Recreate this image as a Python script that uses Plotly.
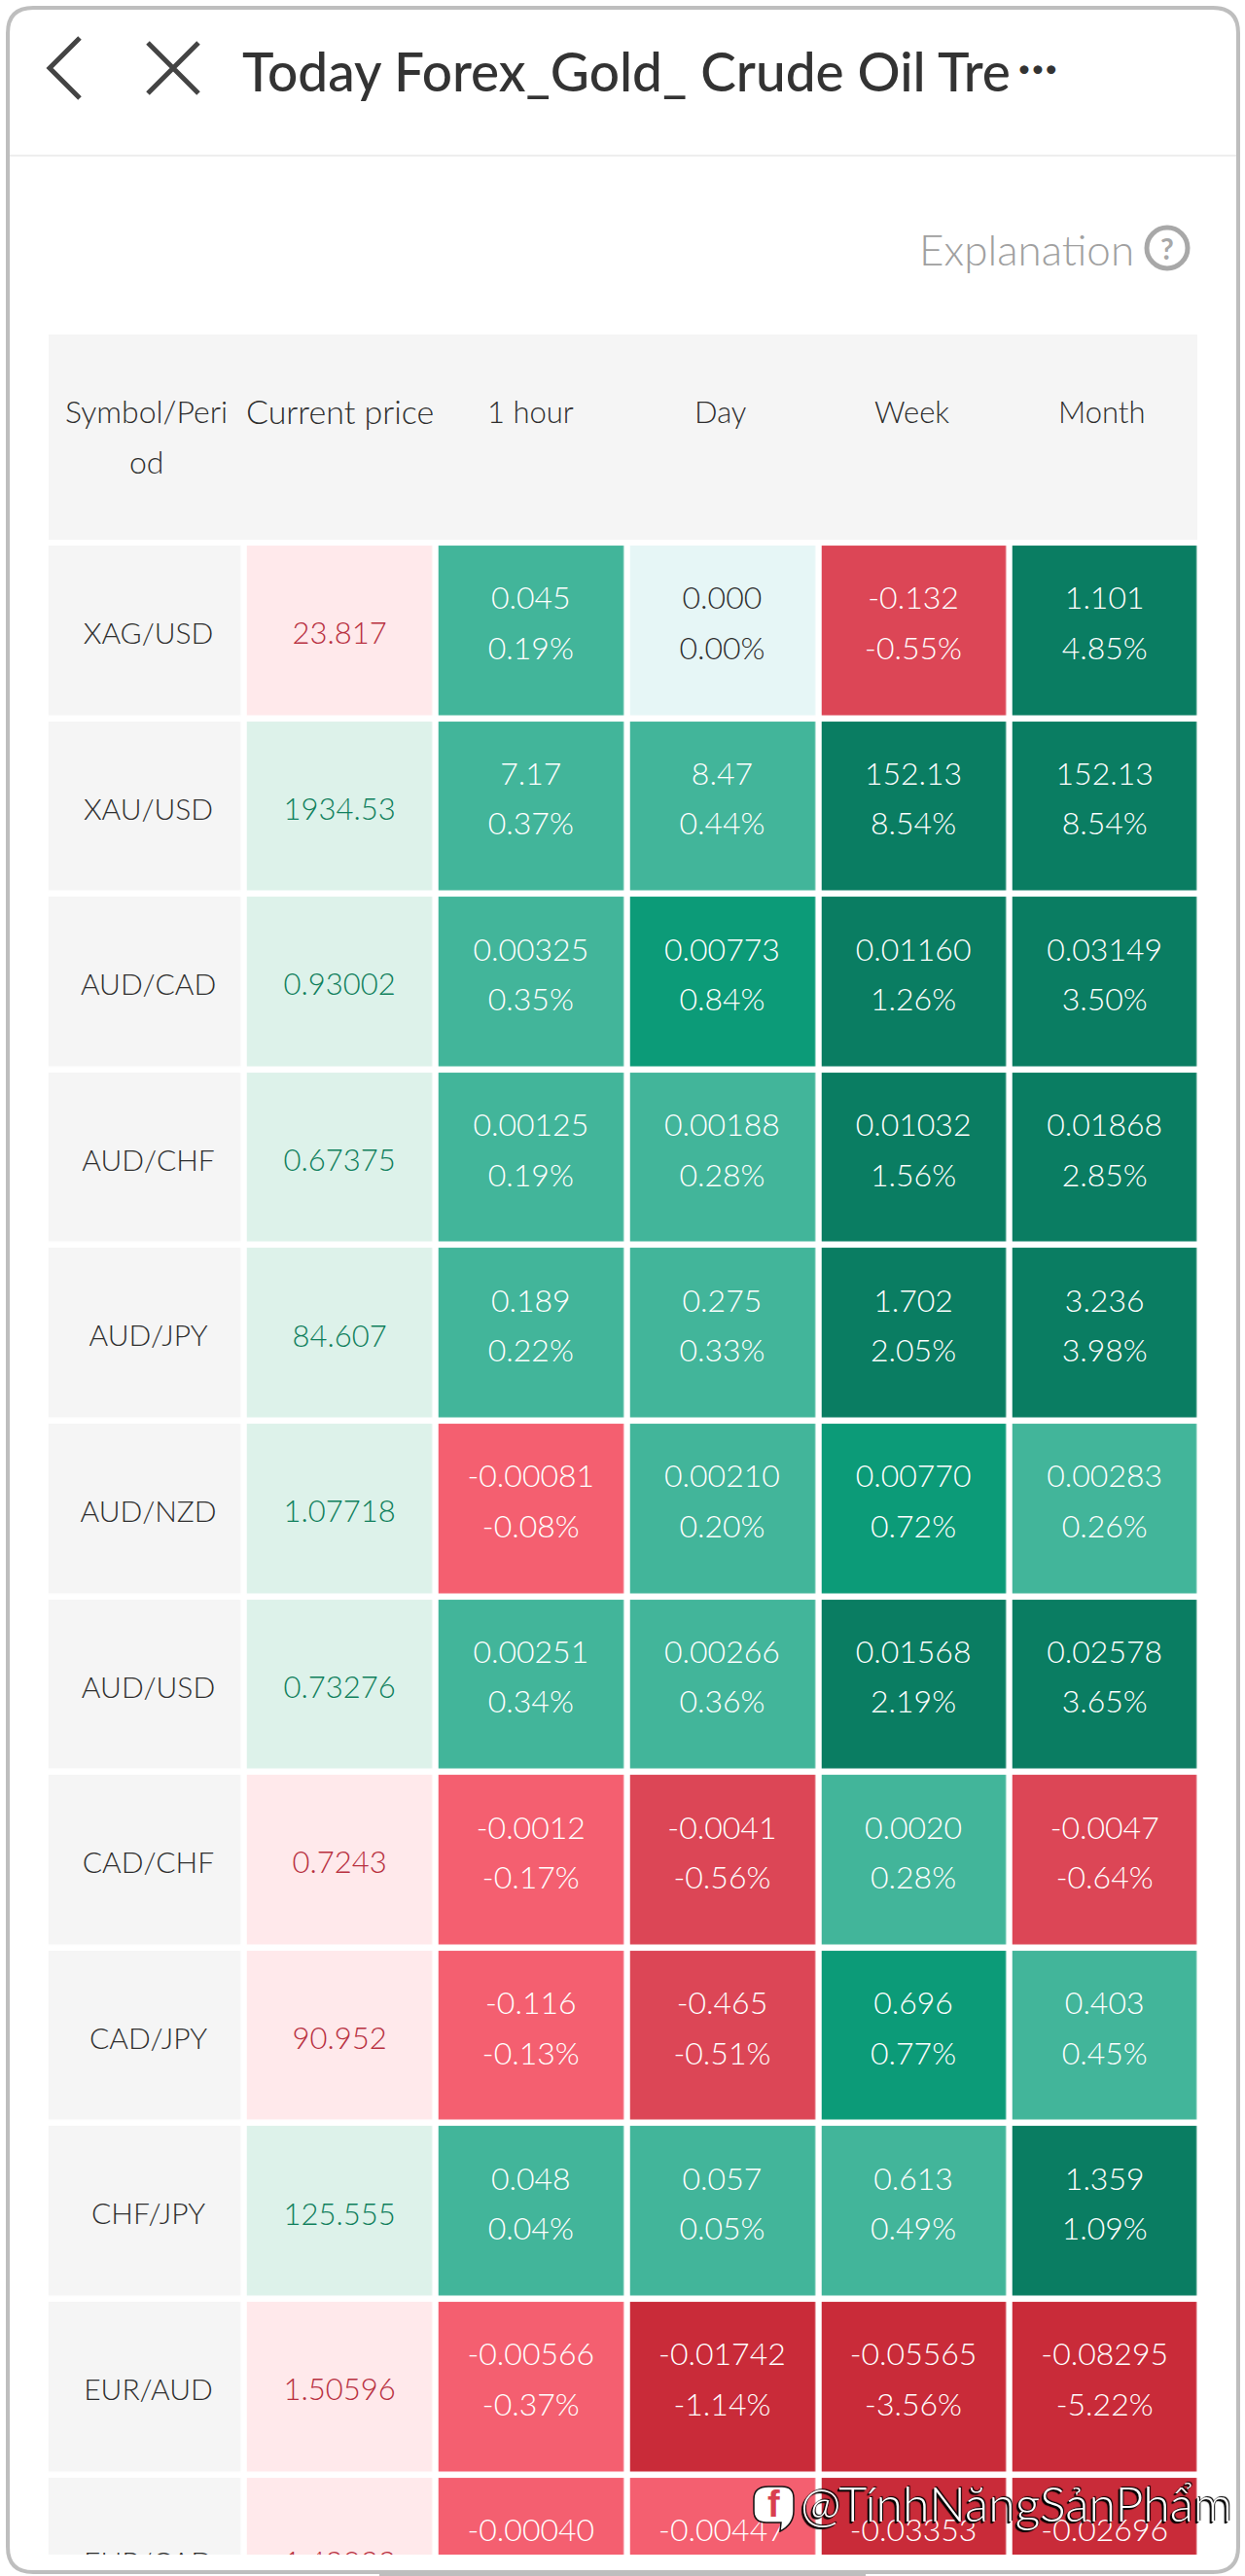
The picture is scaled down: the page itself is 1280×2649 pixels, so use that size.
import plotly.graph_objects as go

W, H = 1280, 2649

symbols = ["XAG/USD", "XAU/USD", "AUD/CAD", "AUD/CHF", "AUD/JPY", "AUD/NZD", "AUD/USD", "CAD/CHF", "CAD/JPY", "CHF/JPY", "EUR/AUD", "EUR/CAD"]
prices = ["23.817", "1934.53", "0.93002", "0.67375", "84.607", "1.07718", "0.73276", "0.7243", "90.952", "125.555", "1.50596", "1.49033"]
price_up = [False, True, True, True, True, True, True, False, False, True, False, False]

hour_val = ["0.045", "7.17", "0.00325", "0.00125", "0.189", "-0.00081", "0.00251", "-0.0012", "-0.116", "0.048", "-0.00566", "-0.00040"]
hour_pct = ["0.19%", "0.37%", "0.35%", "0.19%", "0.22%", "-0.08%", "0.34%", "-0.17%", "-0.13%", "0.04%", "-0.37%", "-0.03%"]
day_val = ["0.000", "8.47", "0.00773", "0.00188", "0.275", "0.00210", "0.00266", "-0.0041", "-0.465", "0.057", "-0.01742", "-0.00447"]
day_pct = ["0.00%", "0.44%", "0.84%", "0.28%", "0.33%", "0.20%", "0.36%", "-0.56%", "-0.51%", "0.05%", "-1.14%", "-0.30%"]
week_val = ["-0.132", "152.13", "0.01160", "0.01032", "1.702", "0.00770", "0.01568", "0.0020", "0.696", "0.613", "-0.05565", "-0.03353"]
week_pct = ["-0.55%", "8.54%", "1.26%", "1.56%", "2.05%", "0.72%", "2.19%", "0.28%", "0.77%", "0.49%", "-3.56%", "-2.20%"]
month_val = ["1.101", "152.13", "0.03149", "0.01868", "3.236", "0.00283", "0.02578", "-0.0047", "0.403", "1.359", "-0.08295", "-0.02696"]
month_pct = ["4.85%", "8.54%", "3.50%", "2.85%", "3.98%", "0.26%", "3.65%", "-0.64%", "0.45%", "1.09%", "-5.22%", "-1.78%"]

headers = ["Symbol/Peri<br>od", "Current price", "1 hour", "Day", "Week", "Month"]

palette = ["#F5F5F5", "#DDF2EA", "#FFE9EB", "#C92B39", "#DC4656", "#F45F70", "#E6F6F6", "#42B59A", "#0C9B78", "#0A7D62"]
TEXT = "#2E2E2E"
FONT = "Lato"


def level(pct):
    v = float(pct.rstrip("%"))
    if v == 0:
        return 6
    if v > 0:
        return 9 if v >= 1 else (8 if v >= 0.5 else 7)
    return 3 if v <= -1 else (4 if v <= -0.5 else 5)


def px(x):
    return x / W


def py(y):
    return 1 - y / H


periods = [(hour_val, hour_pct), (day_val, day_pct), (week_val, week_pct), (month_val, month_pct)]
n = len(symbols)

x_edges = [-0.538, 0.5, 1.5, 2.504, 3.505, 4.504, 5.5]
y_edges = list(range(n + 1))
z = []
for i in range(n):
    row = [0, 1 if price_up[i] else 2]
    for _, pcts in periods:
        row.append(level(pcts[i]))
    z.append(row)

m = len(palette)
scale = []
for k, c in enumerate(palette):
    scale += [[k / m, c], [(k + 1) / m, c]]

fig = go.Figure()
fig.add_trace(go.Heatmap(x=x_edges, y=y_edges, z=z, zmin=0, zmax=m, colorscale=scale,
                         showscale=False, xgap=6.5, ygap=6.5, hoverinfo="skip"))

# symbol and price column; the last row sits at the clipped edge of the table
label_y = [min(i + 0.534, 11.52) for i in range(n)]
fig.add_trace(go.Scatter(x=[0] * n, y=label_y, mode="text", text=symbols,
                         textposition="middle center", textfont=dict(family=FONT, size=30, color=TEXT, weight=300),
                         hoverinfo="skip", showlegend=False))
fig.add_trace(go.Scatter(x=[1] * n, y=label_y, mode="text", text=prices,
                         textposition="middle center",
                         textfont=dict(family=FONT, size=31, weight=300,
                                       color=["#0F7F5C" if u else "#B8303F" for u in price_up]),
                         hoverinfo="skip", showlegend=False))

# period columns: value line and percent line
for c, (vals, pcts) in enumerate(periods):
    colors = [TEXT if float(p.rstrip("%")) == 0 else "#FFFFFF" for p in pcts]
    fig.add_trace(go.Scatter(x=[c + 2] * n, y=[i + 0.334 for i in range(n)], mode="text", text=vals,
                             textposition="middle center", textfont=dict(family=FONT, size=32, color=colors, weight=300),
                             hoverinfo="skip", showlegend=False))
    fig.add_trace(go.Scatter(x=[c + 2] * n, y=[i + 0.619 for i in range(n)], mode="text", text=pcts,
                             textposition="middle center", textfont=dict(family=FONT, size=32, color=colors, weight=300),
                             hoverinfo="skip", showlegend=False))

shapes = []
# device frame
r = 26
l, t, rt, b = 8, 8, 1273, 2645
shapes.append(dict(type="path", xref="paper", yref="paper", layer="below",
                   path=f"M{px(l+r)},{py(t)} L{px(rt-r)},{py(t)} Q{px(rt)},{py(t)} {px(rt)},{py(t+r)} "
                        f"L{px(rt)},{py(b-r)} Q{px(rt)},{py(b)} {px(rt-r)},{py(b)} L{px(l+r)},{py(b)} "
                        f"Q{px(l)},{py(b)} {px(l)},{py(b-r)} L{px(l)},{py(t+r)} Q{px(l)},{py(t)} {px(l+r)},{py(t)} Z",
                   line=dict(color="#BEBEBE", width=4), fillcolor="#FFFFFF"))
# home bar
shapes.append(dict(type="line", xref="paper", yref="paper", x0=px(390), x1=px(890), y0=py(2648), y1=py(2648),
                   line=dict(color="#BEBEBE", width=2)))
# divider
shapes.append(dict(type="line", xref="paper", yref="paper", x0=px(10), x1=px(1271), y0=py(160), y1=py(160),
                   line=dict(color="#EEEEEE", width=2)))
# table header band
shapes.append(dict(type="rect", xref="paper", yref="paper", layer="below", x0=px(50), x1=px(1231), y0=py(344), y1=py(555),
                   fillcolor="#F5F5F5", line=dict(width=0)))
# back chevron
shapes.append(dict(type="path", xref="paper", yref="paper",
                   path=f"M{px(82)},{py(39)} L{px(51)},{py(70)} L{px(82)},{py(101)}",
                   line=dict(color="#444444", width=5)))
# close cross
shapes.append(dict(type="path", xref="paper", yref="paper",
                   path=f"M{px(152)},{py(44)} L{px(204)},{py(96)} M{px(204)},{py(44)} L{px(152)},{py(96)}",
                   line=dict(color="#444444", width=5)))
# question circle
shapes.append(dict(type="circle", xref="paper", yref="paper", x0=px(1179), x1=px(1221), y0=py(234), y1=py(276),
                   line=dict(color="#A8A8A8", width=5)))
# watermark bubble
shapes.append(dict(type="path", xref="paper", yref="paper",
                   path=f"M{px(790)},{py(2557)} L{px(804)},{py(2557)} Q{px(816)},{py(2557)} {px(816)},{py(2569)} "
                        f"L{px(816)},{py(2582)} Q{px(816)},{py(2596)} {px(802)},{py(2603)} L{px(803)},{py(2594)} "
                        f"L{px(788)},{py(2594)} Q{px(775)},{py(2594)} {px(775)},{py(2582)} L{px(775)},{py(2570)} "
                        f"Q{px(775)},{py(2557)} {px(790)},{py(2557)} Z",
                   line=dict(color="#111111", width=1.5), fillcolor="#FFFFFF"))

annotations = []


def note(text, x, y, size, color, anchor="center", **kw):
    font = dict(family=kw.pop("family", FONT), size=size, color=color)
    if "shadow" in kw:
        font["shadow"] = kw.pop("shadow")
    if "weight" in kw:
        font["weight"] = kw.pop("weight")
    annotations.append(dict(text=text, x=px(x), y=py(y), xref="paper", yref="paper", showarrow=False,
                            xanchor=anchor, yanchor="middle", font=font, align="center", **kw))


note("Today Forex_Gold_ Crude Oil Tre", 247, 73, 55, "#333333", "left", weight=500)
note("\u2022\u2022\u2022", 1067, 70, 24, "#333333")
note("Explanation", 943, 256, 44, "#A0A0A0", "left", weight=300)
note("?", 1200, 255, 30, "#A8A8A8", weight=700)

# header labels, placed on the table's own axes
hdr_x = [-0.01, 1, 2, 2.99, 3.99, 4.985]
hdr_size = [32, 34, 31, 31, 31, 31]
for hx, h, sz in zip(hdr_x, headers, hdr_size):
    for k, ln in enumerate(h.split("<br>")):
        annotations.append(dict(text=ln, x=hx, y=-0.75 + k * 0.287, xref="x", yref="y", showarrow=False,
                                xanchor="center", yanchor="middle",
                                font=dict(family=FONT, size=sz, color=TEXT, weight=300)))

# watermark
note("@T\u00ednhN\u0103ngS\u1ea3nPh\u1ea9m", 821, 2574, 50, "#FFFFFF", "left",
     shadow="-1px 1px 1px #000, 1px -1px 1px #000, -2px 2px 1px #000", weight=300)
note("f", 795, 2575, 38, "#D9404F", family="Liberation Sans", weight=700)

fig.update_layout(
    width=W, height=H, margin=dict(l=0, r=0, t=0, b=0), paper_bgcolor="#FFFFFF", plot_bgcolor="rgba(0,0,0,0)",
    showlegend=False, shapes=shapes, annotations=annotations,
    xaxis=dict(domain=[px(46.75), px(1234)], range=[-0.538, 5.5], visible=False, fixedrange=True),
    yaxis=dict(domain=[py(2627), py(341)], range=[11.456, -1.2016], visible=False, fixedrange=True),
)

fig.write_html("out.html", config=dict(displayModeBar=False),
               post_script="document.body.style.margin='0';document.documentElement.style.overflow='hidden';")
